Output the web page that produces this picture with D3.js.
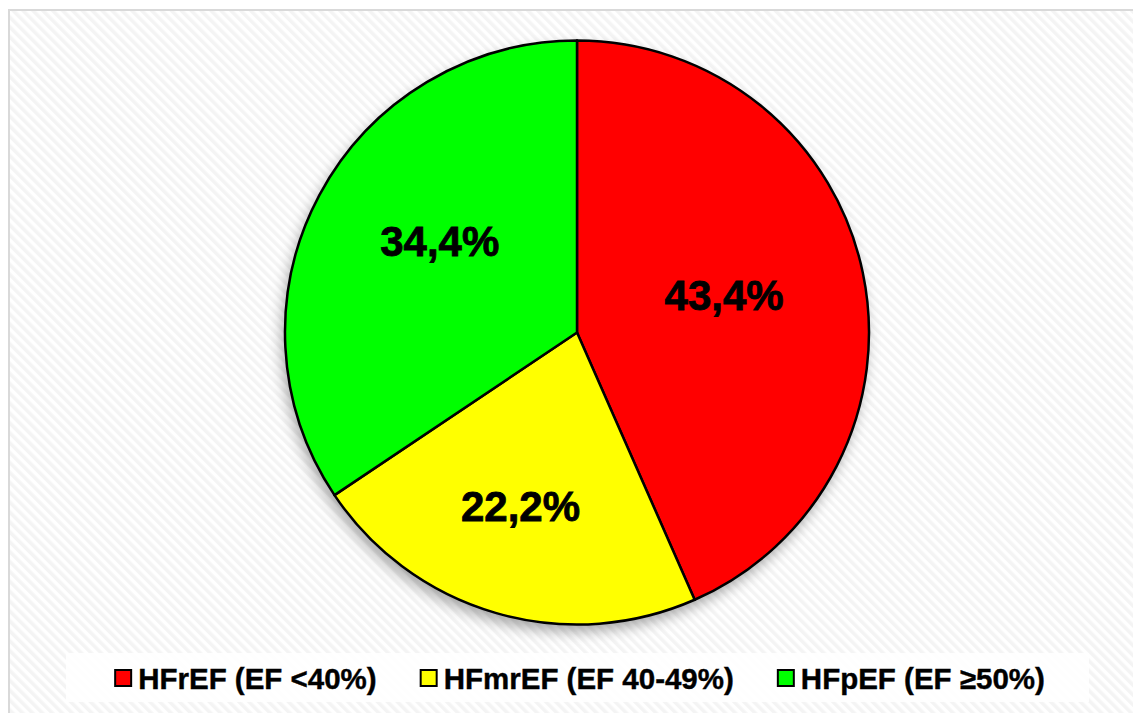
<!DOCTYPE html>
<html lang="en">
<head>
    <meta charset="UTF-8">
    <script src="https://d3js.org/d3.v7.min.js"></script>
    <title>HF pie</title>
    <style>
        body { margin: 0; background: #fff; }
        text { font-family: "Liberation Sans", Arial, sans-serif; font-weight: bold; }
    </style>
</head>
<body>
    <svg id="chart" width="1133" height="713"></svg>
    <script>
        // data
        const categories = ["HFrEF (EF <40%)", "HFmrEF (EF 40-49%)", "HFpEF (EF \u226550%)"];
        const values = [43.4, 22.2, 34.4];
        const labels = ["43,4%", "22,2%", "34,4%"];
        const colors = ["#ff0000", "#ffff00", "#00ff00"];

        const svg = d3.select("#chart");
        const cx = 577, cy = 332.5, r = 292;
        // label placement: distance as part of radius, then small nudge
        const labelRadius = [0.515, 0.632, 0.56];
        const labelNudge = [[0, -7], [-5, -4], [7, -15]];

        const defs = svg.append("defs");
        const pat = defs.append("pattern")
            .attr("id", "stripes")
            .attr("patternUnits", "userSpaceOnUse")
            .attr("width", 7).attr("height", 7)
            .attr("patternTransform", "rotate(-45)");
        pat.append("rect").attr("width", 7).attr("height", 7).attr("fill", "#ffffff");
        pat.append("rect").attr("width", 3.5).attr("height", 7).attr("fill", "#f4f4f4");

        const shadow = defs.append("filter")
            .attr("id", "shadow")
            .attr("x", "-20%").attr("y", "-20%")
            .attr("width", "140%").attr("height", "140%");
        shadow.append("feDropShadow")
            .attr("dx", -3).attr("dy", 7)
            .attr("stdDeviation", 7)
            .attr("flood-color", "#000")
            .attr("flood-opacity", 0.35);

        // chart area
        svg.append("rect")
            .attr("x", 9).attr("y", 10)
            .attr("width", 1140).attr("height", 720)
            .attr("fill", "url(#stripes)")
            .attr("stroke", "#d9d9d9")
            .attr("stroke-width", 2);

        const pie = d3.pie().sort(null).value(d => d)(values);
        const arc = d3.arc().innerRadius(0).outerRadius(r);

        const g = svg.append("g")
            .attr("transform", "translate(" + cx + "," + cy + ")");

        g.append("circle")
            .attr("r", r)
            .attr("fill", "#fff")
            .attr("filter", "url(#shadow)");

        g.selectAll("path")
            .data(pie)
            .enter().append("path")
            .attr("d", arc)
            .attr("fill", (d, i) => colors[i])
            .attr("stroke", "#000")
            .attr("stroke-width", 2.5)
            .attr("stroke-linejoin", "round");

        g.selectAll("text.lbl")
            .data(pie)
            .enter().append("text")
            .attr("class", "lbl")
            .attr("transform", (d, i) => {
                const a = d3.arc().innerRadius(r * labelRadius[i]).outerRadius(r * labelRadius[i]);
                const c = a.centroid(d);
                return "translate(" + (c[0] + labelNudge[i][0]) + "," + (c[1] + labelNudge[i][1]) + ")";
            })
            .attr("text-anchor", "middle")
            .attr("dy", "0.36em")
            .attr("font-size", 42)
            .attr("fill", "#000")
            .attr("stroke", "#000")
            .attr("stroke-width", 0.8)
            .text((d, i) => labels[i]);

        // legend
        svg.append("rect")
            .attr("x", 66).attr("y", 653)
            .attr("width", 1023).attr("height", 49)
            .attr("fill", "#fff")
            .attr("opacity", 0.85);

        const leg = svg.append("g");
        const items = leg.selectAll("g")
            .data(categories)
            .enter().append("g");
        items.append("rect")
            .attr("width", 16).attr("height", 16)
            .attr("y", -8)
            .attr("fill", (d, i) => colors[i])
            .attr("stroke", "#000")
            .attr("stroke-width", 2);
        items.append("text")
            .attr("x", 23)
            .attr("dy", "0.36em")
            .attr("font-size", 29.5)
            .attr("fill", "#000")
            .attr("stroke", "#000")
            .attr("stroke-width", 0.4)
            .text(d => d);

        let widths = [];
        items.each(function () {
            widths.push(d3.select(this).select("text").node().getComputedTextLength() + 23);
        });
        const gap = 44;
        const total = d3.sum(widths) + gap * (widths.length - 1);
        let x0 = 580 - total / 2;
        items.attr("transform", (d, i) => {
            const x = x0;
            x0 += widths[i] + gap;
            return "translate(" + x + ",678)";
        });
    </script>
</body>
</html>
